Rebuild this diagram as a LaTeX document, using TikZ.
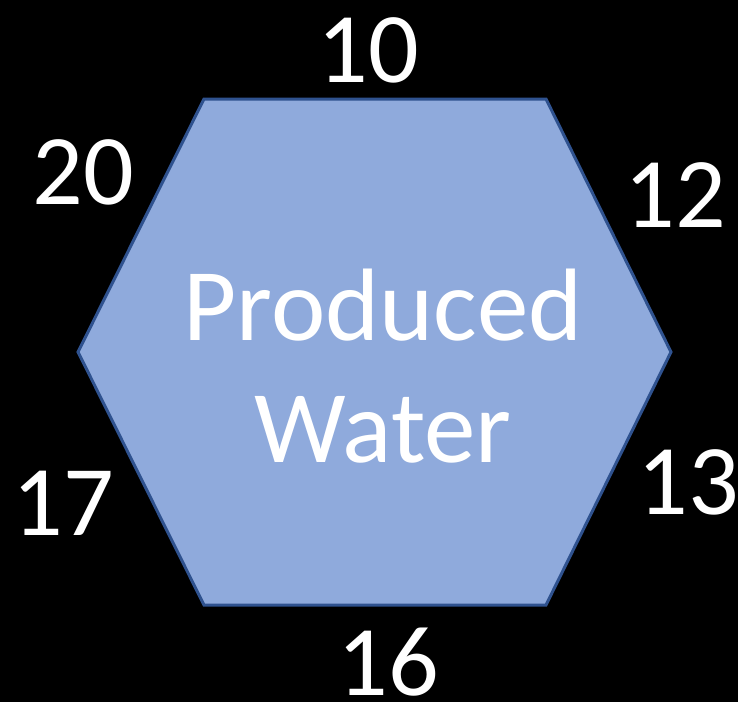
\documentclass[tikz,border=0pt]{standalone}
\usepackage{fontspec}
\setmainfont{Carlito}
\definecolor{hexfill}{HTML}{8FAADC}
\definecolor{hexline}{HTML}{2F528F}
\begin{document}
\begin{tikzpicture}[x=1pt,y=-1pt,
  num/.style={text=white,font=\fontsize{100}{110}\selectfont,inner sep=0pt},
  lbl/.style={text=white,font=\fontsize{103}{122}\selectfont,align=center,inner sep=0pt}]
\fill[black] (0,0) rectangle (738,702);
\useasboundingbox (0,0) rectangle (738,702);
\coordinate (v1) at (204,99);
\coordinate (v2) at (546,99);
\coordinate (v3) at (671,352);
\coordinate (v4) at (546,605);
\coordinate (v5) at (204,605);
\coordinate (v6) at (78,352);
\draw[hexline,line width=3pt,fill=hexfill,line join=miter] (v1)--(v2)--(v3)--(v4)--(v5)--(v6)--cycle;
\node[lbl] (t) at (383,366) {Produced\\Water};
\node[num] (n10) at (368,50) {10};
\node[num] (n12) at (675,195) {12};
\node[num] (n13) at (688,482) {13};
\node[num] (n16) at (388,662) {16};
\node[num] (n17) at (63,503) {17};
\node[num] (n20) at (83,172) {20};
\end{tikzpicture}
\end{document}
